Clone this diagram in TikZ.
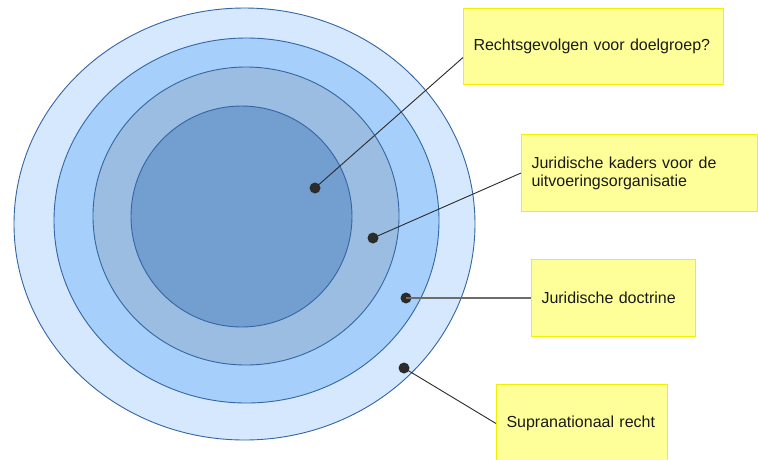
\documentclass[tikz,border=0pt]{standalone}
\usepackage{fontspec}
\setmainfont{Liberation Sans}
\definecolor{ring1}{HTML}{D5E8FD}
\definecolor{ring2}{HTML}{A6D0FB}
\definecolor{ring3}{HTML}{9BBDE2}
\definecolor{ring4}{HTML}{729FCF}
\definecolor{ringline}{HTML}{3465A4}
\definecolor{notefill}{HTML}{FFFF99}
\definecolor{noteline}{HTML}{F2F200}
\definecolor{dotc}{HTML}{2B2B2B}
\definecolor{txt}{HTML}{1A1A1A}
\begin{document}
\begin{tikzpicture}[x=1pt,y=-1pt,
  ring/.style={draw=ringline,line width=0.9pt},
  note/.style={draw=noteline,fill=notefill,line width=1pt,anchor=north west,
    inner xsep=10pt,inner ysep=0pt,align=left,font=\fontsize{16}{18}\selectfont,
    text=txt},
  dotm/.style={circle,fill=dotc,inner sep=0pt,minimum size=11pt},
  lead/.style={draw=dotc,line width=0.9pt}]
\useasboundingbox (0,0) rectangle (758,459);
\fill[white] (0,0) rectangle (758,459);
\draw[ring,fill=ring1] (244.5,224) ellipse [x radius=230.5,y radius=216];
\draw[ring,fill=ring2] (246.5,220.5) ellipse [x radius=192.5,y radius=182.5];
\draw[ring,fill=ring3] (246,216) ellipse [x radius=153,y radius=149];
\draw[ring,fill=ring4] (241.5,216.5) ellipse [x radius=110.5,y radius=110.5];

\node[note,text width=240pt,minimum height=76pt] (b1) at (463,8) {Rechtsgevolgen voor doelgroep?};
\node[note,text width=216pt,minimum height=77pt] (b2) at (521,134) {Juridische kaders voor de\\uitvoeringsorganisatie};
\node[note,text width=144pt,minimum height=77pt] (b3) at (531,259) {Juridische doctrine};
\node[note,text width=151pt,minimum height=78pt] (b4) at (496,384) {Supranationaal recht};

\node[dotm] (d1) at (315,188) {};
\node[dotm] (d2) at (373,238) {};
\node[dotm] (d3) at (406,298) {};
\node[dotm] (d4) at (404,368) {};

\coordinate (c1) at ([yshift=-11pt]b1.west);
\draw[lead] (d1.center) -- (c1);
\draw[lead] (d2.center) -- (b2.west);
\draw[lead,draw=gray!85!black,line width=1.3pt] (d3.center) -- (b3.west);
\draw[lead] (d4.center) -- (b4.west);
\end{tikzpicture}
\end{document}
